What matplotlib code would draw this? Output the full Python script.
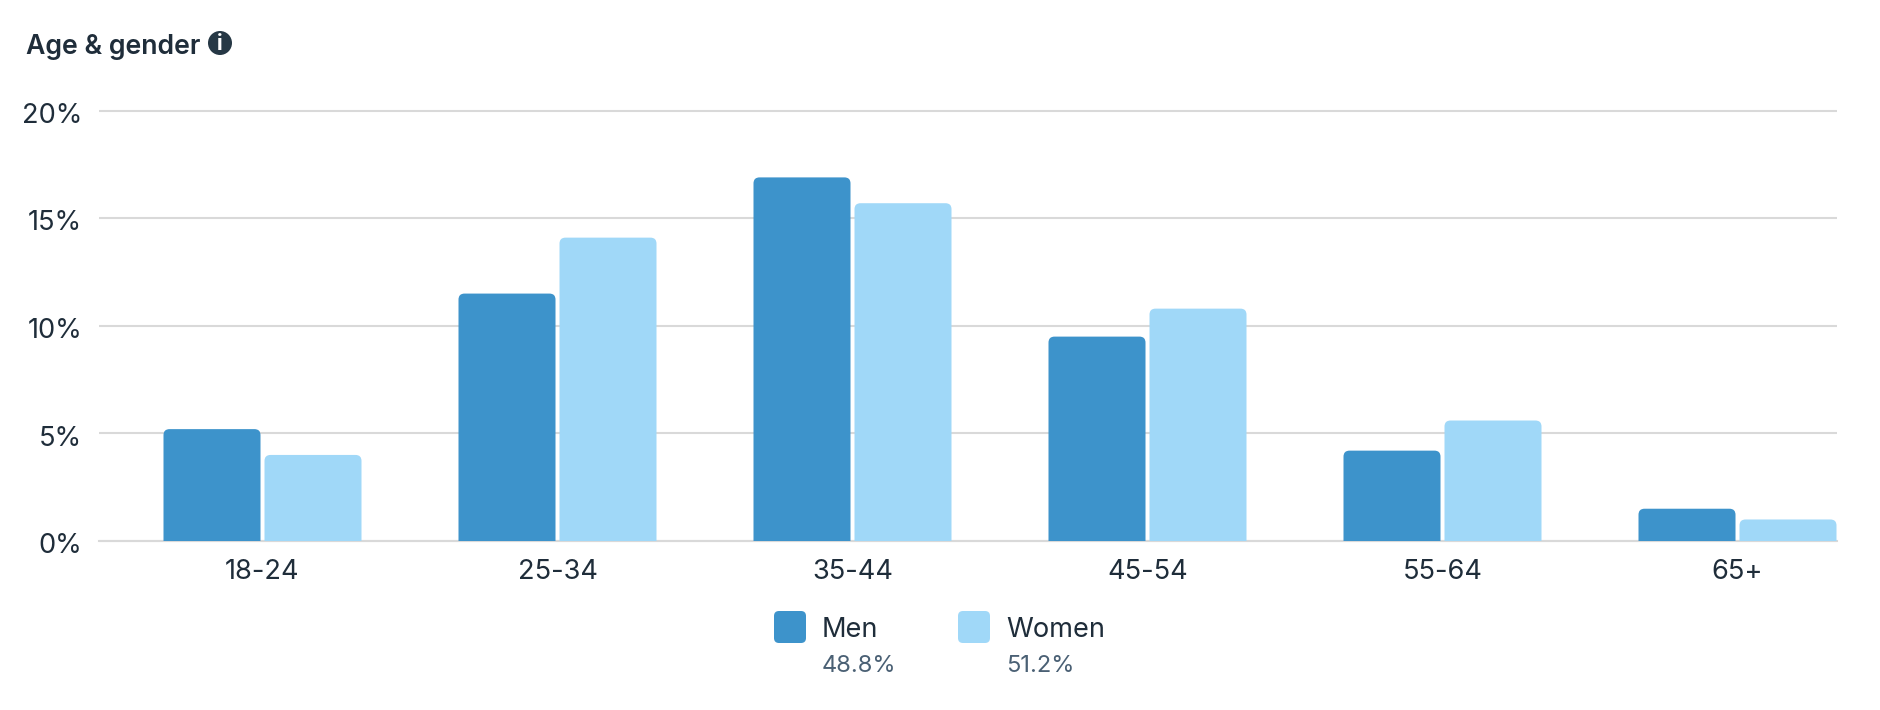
import matplotlib
matplotlib.use("Agg")
import matplotlib.pyplot as plt
from matplotlib.patches import Circle, FancyBboxPatch, PathPatch
from matplotlib.path import Path
from matplotlib.transforms import Affine2D, ScaledTranslation

plt.rcParams['font.family'] = ['Inter', 'DejaVu Sans']

ages = ["18-24", "25-34", "35-44", "45-54", "55-64", "65+"]
men = [5.2, 11.5, 16.9, 9.5, 4.2, 1.5]
women = [4.0, 14.1, 15.7, 10.8, 5.6, 1.0]
yticks = [0, 5, 10, 15, 20]
ytick_labels = ["0%", "5%", "10%", "15%", "20%"]
legend_names = ["Men", "Women"]
legend_shares = ["48.8%", "51.2%"]

W, H = 1880, 710
DARK = "#1f2d3a"
GREY = "#4a6074"
GRID = "#d9d9d9"
MEN_C = "#3d93cb"
WOMEN_C = "#a0d8f8"

fig = plt.figure(figsize=(W / 100, H / 100), dpi=100)
# axes box in pixels: left 99, right 1837, top 110.7 (20%), bottom 541 (0%)
ax = fig.add_axes([99 / W, 1 - 541 / H, (1837 - 99) / W, (541 - 110.7) / H])

step = 295.0  # px per category
ax.set_xlim((99 - 262.5) / step, (1837 - 262.5) / step)
ax.set_ylim(0, 20)
ax.set_axisbelow(True)
ax.yaxis.grid(True, color=GRID, lw=1.5)
ax.xaxis.grid(False)
for s in ["top", "right", "left"]:
    ax.spines[s].set_visible(False)
ax.spines["bottom"].set_color(GRID)
ax.spines["bottom"].set_linewidth(1.5)

ax.set_yticks(yticks)
ax.set_yticklabels(ytick_labels)
ax.set_xticks(range(len(ages)))
ax.set_xticklabels(ages)
ax.tick_params(axis="y", length=0, pad=12, labelsize=19.6, labelcolor=DARK)
ax.tick_params(axis="x", length=0, pad=13, labelsize=19.6, labelcolor=DARK)
# y labels sit a touch below their gridlines
down = ScaledTranslation(0, -1.5 / 72, fig.dpi_scale_trans)
for lab in ax.get_yticklabels():
    lab.set_transform(lab.get_transform() + down)
for line in ax.get_ygridlines():
    line.set_clip_on(False)
    line.set_solid_capstyle("butt")

bar_w = 97 / step
gap = 2 / step
px_y = 20 / (541 - 110.7)


def rounded_bar(x0, w, h, color):
    # bar with only the top corners rounded, 6px radius
    rx = 6 / step
    ry = min(6 * px_y, h)
    verts = [(x0, 0), (x0, h - ry), (x0, h), (x0 + rx, h),
             (x0 + w - rx, h), (x0 + w, h), (x0 + w, h - ry), (x0 + w, 0), (x0, 0)]
    codes = [Path.MOVETO, Path.LINETO, Path.CURVE3, Path.CURVE3,
             Path.LINETO, Path.CURVE3, Path.CURVE3, Path.LINETO, Path.CLOSEPOLY]
    ax.add_patch(PathPatch(Path(verts, codes), facecolor=color, edgecolor="none", zorder=3, clip_on=False))


for i in range(len(ages)):
    rounded_bar(i - gap - bar_w, bar_w, men[i], MEN_C)
    rounded_bar(i + gap, bar_w, women[i], WOMEN_C)

# everything outside the axes is placed in pixels, y from the top
px = Affine2D().scale(1, -1).translate(0, H)

fig.text(26, 54, "Age & gender", transform=px, fontsize=19.2, fontweight="semibold",
         color=DARK, ha="left", va="baseline")
fig.add_artist(Circle((220, 43), 12, transform=px, facecolor="#263845", edgecolor="none"))
fig.text(220, 43.5, "i", transform=px, fontsize=15, fontweight="bold", color="white",
         ha="center", va="center")

swatch_x = [774, 958]
label_x = [822, 1006]
colors = [MEN_C, WOMEN_C]
for i in range(2):
    fig.add_artist(FancyBboxPatch((swatch_x[i] + 4, 615), 24, 24, boxstyle="round,pad=4,rounding_size=5",
                                  transform=px, facecolor=colors[i], edgecolor="none"))
    fig.text(label_x[i], 637, legend_names[i], transform=px, fontsize=19.6, color=DARK,
             ha="left", va="baseline")
    fig.text(label_x[i], 672, legend_shares[i], transform=px, fontsize=17, color=GREY,
             ha="left", va="baseline")

fig.savefig("out.png", dpi=100, facecolor="white")
